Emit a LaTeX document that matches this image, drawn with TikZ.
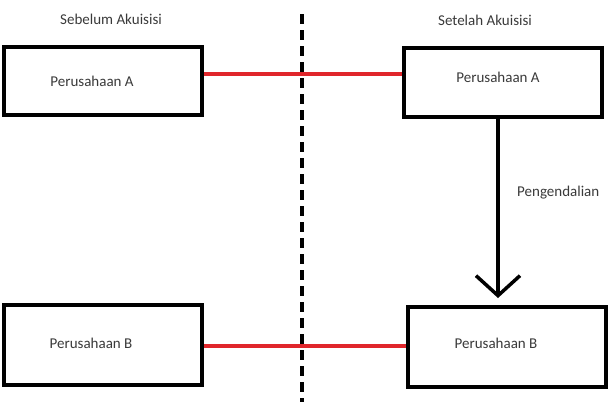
\documentclass[tikz,border=0pt]{standalone}
\usepackage{fontspec}
\setmainfont{Carlito}
\usetikzlibrary{arrows.meta}
\definecolor{txt}{HTML}{3A3A3A}
\definecolor{redline}{HTML}{E0262B}
\begin{document}
\begin{tikzpicture}[x=1pt,y=-1pt,
  company/.style={draw=black,line width=4pt,minimum width=198pt,inner sep=0pt,text=txt},
  title/.style={text=txt,font=\fontsize{15}{17}\selectfont,inner sep=0pt},
  link/.style={draw=redline,line width=3.5pt},
  ctrl/.style={draw=black,line width=3.5pt,-{Straight Barb[length=20pt,width=44pt,line width=3.5pt]}}]
\useasboundingbox (0,0) rectangle (612,408);
\fill[white] (0,0) rectangle (612,408);
\draw[line width=4pt,dash pattern=on 10pt off 6pt] (302,14) -- (302,402);
\node[company,minimum height=68pt] (a1) at (103,81) {};
\node[company,minimum height=69pt] (a2) at (503,82.5) {};
\node[company,minimum height=80pt] (b1) at (103,345) {};
\node[company,minimum height=80pt] (b2) at (507,347) {};
\node[title] (t1) at (111,19) {Sebelum Akuisisi};
\node[title] (t2) at (485,20) {Setelah Akuisisi};
\node[title] (la1) at (92,81) {Perusahaan A};
\node[title] (la2) at (498,77) {Perusahaan A};
\node[title] (lb1) at (91,343) {Perusahaan B};
\node[title] (lb2) at (496,343) {Perusahaan B};
\node[title,anchor=west] (pg) at (517,193) {Pengendalian};
\draw[link] (a1.east |- 0,74) -- (a2.west |- 0,74);
\draw[link] (b1.east |- 0,346) -- (b2.west |- 0,346);
\coordinate (tip) at (498,298);
\draw[ctrl] (a2.south -| tip) -- (tip);
\end{tikzpicture}
\end{document}
